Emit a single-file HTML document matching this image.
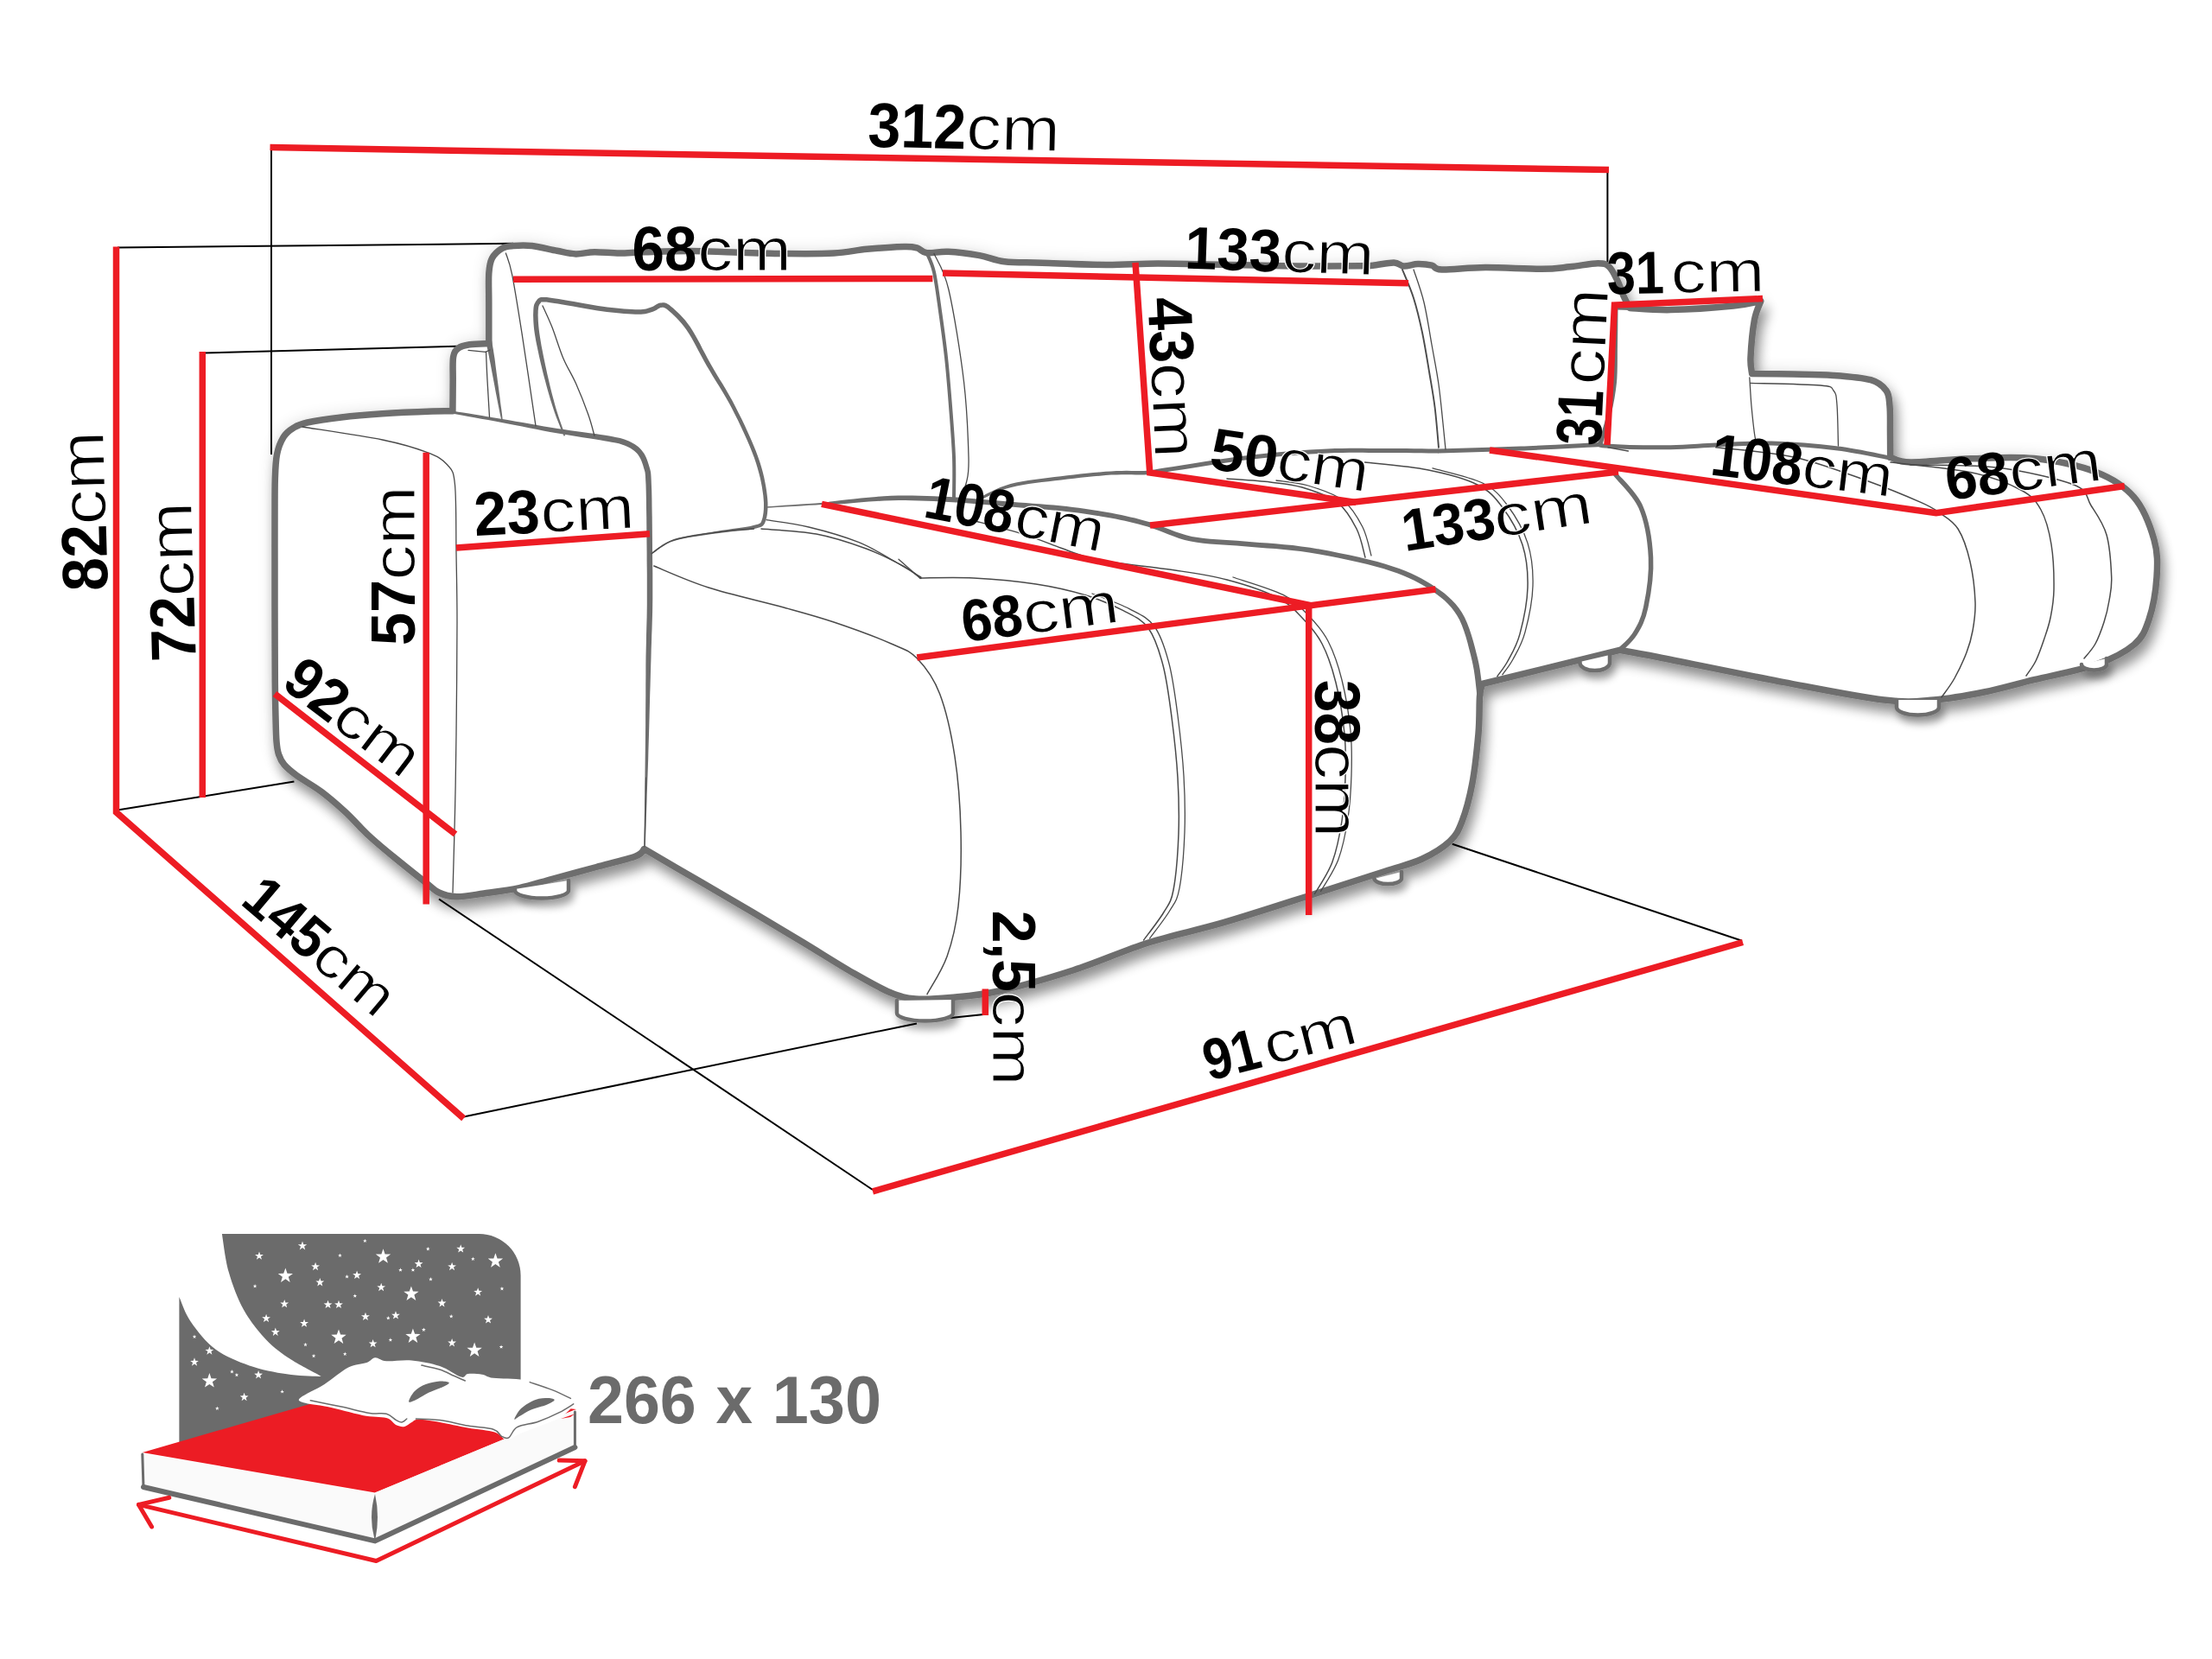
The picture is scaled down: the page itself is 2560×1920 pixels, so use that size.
<!DOCTYPE html><html><head><meta charset="utf-8"><title>Sofa dimensions</title>
<style>html,body{margin:0;padding:0;background:#fff}svg{display:block}text{font-family:"Liberation Sans",sans-serif}</style></head><body>
<svg width="2560" height="1920" viewBox="0 0 2560 1920">
<defs><filter id="sh" x="-5%" y="-5%" width="112%" height="115%"><feGaussianBlur in="SourceAlpha" stdDeviation="7"/><feOffset dx="5" dy="11"/><feComponentTransfer result="a"><feFuncA type="linear" slope="0.4"/></feComponentTransfer><feGaussianBlur in="SourceAlpha" stdDeviation="9"/><feComponentTransfer result="b"><feFuncA type="linear" slope="0.12"/></feComponentTransfer><feMerge><feMergeNode in="b"/><feMergeNode in="a"/><feMergeNode in="SourceGraphic"/></feMerge></filter><filter id="sh2" x="-30%" y="-30%" width="170%" height="220%"><feGaussianBlur in="SourceAlpha" stdDeviation="5"/><feOffset dx="4" dy="8"/><feComponentTransfer result="a"><feFuncA type="linear" slope="0.35"/></feComponentTransfer><feMerge><feMergeNode in="a"/><feMergeNode in="SourceGraphic"/></feMerge></filter></defs>
<rect width="2560" height="1920" fill="#fff"/>
<g stroke="#000" stroke-width="2" fill="none">
<line x1="314" y1="170" x2="314" y2="526"/>
<line x1="1860.4" y1="196" x2="1860.4" y2="306.5"/>
<line x1="136" y1="286.5" x2="594" y2="281.8"/>
<line x1="236" y1="408.5" x2="529" y2="400.7"/>
<line x1="136" y1="937.5" x2="340.4" y2="904.6"/>
<line x1="508" y1="1040.5" x2="1010" y2="1377"/>
<line x1="536.6" y1="1292.5" x2="1061" y2="1184.4"/>
<line x1="1090.5" y1="1179" x2="1141" y2="1173.8"/>
<line x1="1680.7" y1="976.7" x2="2016" y2="1088.8"/>
</g>
<path d="M318 700C318 691.7 318 666.7 318 650C318 633.3 317.9 615.8 318 600C318.1 584.2 317.9 567.3 318.3 555C318.7 542.7 318.9 534.2 320.5 526C322.1 517.8 324.8 511.2 328 506C331.2 500.8 335.4 497.8 340 495C344.6 492.2 346.5 491 355.7 489C364.9 487 380.5 484.7 395 483C409.5 481.3 425 480 442.5 478.8C460 477.6 486.4 476.5 500 476C513.6 475.5 519.9 475.8 523.9 475.8C524 469.8 524.1 450.4 524.2 440C524.3 429.6 523.6 419.4 524.6 413.2C525.6 407 527.3 405.4 530.4 403C533.5 400.6 537.5 399.7 543.4 398.8C549.3 397.9 562.1 397.7 565.8 397.5C565.8 389.6 565.8 363.5 565.8 350C565.8 336.5 565.2 324.8 565.8 316.3C566.4 307.8 566.9 303.8 569.4 299C571.9 294.2 576.9 289.8 581 287.4C585.1 285 588.2 285 594 284.5C599.8 284 607.2 283.5 615.7 284.5C624.2 285.5 636.2 288.7 644.7 290.3C653.2 291.9 659.2 293.7 666.4 293.9C673.6 294.1 679.6 291.8 688 291.7C696.4 291.6 707.3 293 717 293C726.7 293 732.2 292.1 746 291.7C759.8 291.3 782.8 290.4 800 290.5C817.2 290.6 830.7 291.5 849 292C867.3 292.5 890.7 293.3 910 293.5C929.3 293.7 949.4 293.9 965 293C980.6 292.1 989.8 289.6 1003.4 288.3C1017 287 1037.1 285.6 1046.8 285.4C1056.5 285.2 1057 285.7 1061.3 286.9C1065.6 288.1 1066.8 292 1072.8 292.7C1078.8 293.4 1087.3 290.7 1097.4 291.2C1107.5 291.7 1122.8 293.7 1133.6 295.6C1144.4 297.5 1150.4 301.4 1162.5 302.8C1174.6 304.2 1186.4 303.6 1206 304.2C1225.6 304.8 1257.7 306.3 1280 306.4C1302.3 306.5 1318 305 1340 305C1362 305 1387.8 305.8 1412 306.3C1436.2 306.8 1463.7 307.5 1485 307.8C1506.3 308.1 1525 308 1540 308C1555 308 1566.9 307.9 1575 307.8C1583.1 307.7 1582.4 307.8 1588.8 307.2C1595.2 306.6 1607.2 303.9 1613.2 304C1619.2 304.1 1620 307.7 1624.6 308C1629.2 308.3 1635.5 305.7 1640.9 305.6C1646.3 305.5 1652.6 306.1 1657.2 307.2C1661.8 308.3 1658.3 311.6 1668.6 312C1678.9 312.4 1699.8 309.7 1719 309.6C1738.2 309.5 1767.7 311.4 1784 311.3C1800.3 311.2 1805.8 309.9 1816.7 308.8C1827.6 307.7 1841.7 304.8 1849.3 304.8C1856.9 304.8 1858.5 305.4 1862.3 308.8C1866.1 312.2 1869.3 319.6 1872 325C1874.7 330.4 1876.2 336.1 1878.5 341.4C1880.8 346.6 1884.8 354 1886 356.5C1893.9 356.9 1913.6 359 1933.6 358.6C1953.6 358.2 1988.6 355.7 2006 354C2023.4 352.3 2032.5 349.4 2037.8 348.5C2036.6 352.1 2032.5 359.1 2030.5 370C2028.5 380.9 2026.5 403.2 2026 413.6C2025.5 424 2027.3 429.3 2027.6 432.4C2035.5 432.5 2059.3 432.7 2075 433C2090.7 433.3 2106.7 433.3 2121.7 434.4C2136.7 435.5 2154.8 436.8 2165 439.7C2175.2 442.6 2179.3 446.9 2183 452C2186.7 457.1 2186.2 462 2187 470C2187.8 478 2187.4 490.1 2187.5 500C2187.6 509.9 2187.7 524.5 2187.7 529.4C2191.6 530.3 2195.8 534.8 2211.4 535C2227 535.2 2257.2 531.5 2281 530.8C2304.8 530.1 2329.8 528 2354 530.6C2378.2 533.2 2406.7 539 2426 546.5C2445.3 554 2458.6 562.5 2469.8 575.5C2481 588.5 2488.6 609.3 2493 624.7C2497.4 640.1 2497 652.6 2496 668C2495 683.4 2491.4 704 2487 717C2482.6 730 2480 737.3 2469.8 746C2459.6 754.7 2445.3 762.2 2426 769C2406.7 775.8 2375.7 781.4 2354 786.7C2332.3 792 2315.3 797.1 2296 801C2276.7 804.9 2257.3 808.5 2238 810C2218.7 811.5 2209.3 813.4 2180.4 810C2151.5 806.6 2108.1 797.8 2064.7 789.6C2021.3 781.4 1951.7 766.9 1920 760.7C1888.3 754.5 1882.1 753.8 1874.5 752.4L1715.4 791.5C1714.9 793.9 1713.2 796.4 1712.5 806C1711.8 815.6 1712.5 832.2 1711 849C1709.5 865.8 1707 890.1 1703.8 907C1700.6 923.9 1696.3 939.5 1692 950.6C1687.7 961.7 1685.5 966.6 1677.8 973.8C1670.1 981 1658.5 988.2 1646 994C1633.5 999.8 1623.2 1001.8 1602.5 1008.5C1581.8 1015.2 1552.6 1024.6 1521.5 1034.5C1490.4 1044.4 1448.1 1058.3 1416 1067.7C1383.9 1077.1 1357.9 1081.8 1329 1091C1300.1 1100.2 1271.4 1113.4 1242.5 1122.7C1213.6 1132 1179.5 1141.7 1155.7 1147C1132 1152.3 1116 1153 1100 1154.5C1084 1156 1071.2 1157 1059.6 1156C1048 1155 1042.7 1153.8 1030.6 1148.8C1018.5 1143.8 1003.8 1135.3 987 1125.7C970.2 1116.1 949.2 1102.6 930 1091C910.8 1079.4 891.5 1067.8 871.5 1056C851.5 1044.2 831 1032.2 810 1020C789 1007.8 756.3 988.8 745.6 982.5C743.9 983.9 744.8 987.5 735.5 991C726.2 994.5 705.9 999.2 690 1003.5C674.1 1007.8 654.8 1013 640 1017C625.2 1021 614.3 1024.8 601 1027.6C587.7 1030.4 572.1 1032.3 560 1034C547.9 1035.7 537.2 1037.9 528.5 1037.7C519.8 1037.5 514.2 1036 508 1033C501.8 1030 499.7 1026.8 491 1020C482.3 1013.2 466.2 1000.3 456 992C445.8 983.7 436.7 976 430 970C423.3 964 420.7 961 415.7 956C410.7 951 407.2 946.6 400 940C392.8 933.4 381.7 923.6 372.3 916.5C362.9 909.4 350.6 902.8 343.4 897.5C336.2 892.2 332.5 889.1 329 885C325.5 880.9 324 877.5 322.5 873C321 868.5 320.6 865.2 320 858C319.4 850.8 319.3 841.3 319 830C318.7 818.7 318.5 811.7 318.3 790C318.1 768.3 318.1 715 318 700Z" fill="#fff" stroke="#6e6e6e" stroke-width="7.5" stroke-linejoin="round" filter="url(#sh)"/>
<g fill="#fff" stroke="#6e6e6e" stroke-width="4.5" stroke-linecap="round" filter="url(#sh2)">
<path d="M596 1029V1030.5A31 9 0 0 0 658 1030.5V1019"/>
<path d="M1038 1158V1172.5A32.5 9 0 0 0 1103 1172.5V1157"/>
<path d="M1590.5 1017V1017.1A15.8 6.4 0 0 0 1622 1017.1V1009"/>
<path d="M1828.5 766V767A17.2 9 0 0 0 1863 767V758"/>
<path d="M2195 810V818.5A24.5 9 0 0 0 2244 818.5V810"/>
<path d="M2409 769V769.1A14.5 6.4 0 0 0 2438 769.1V762"/>
</g>
<path d="M525.7 479L529.9 479.8L535.4 480.8L541.9 481.9L549.2 483.2L557 484.7L565 486.1L573 487.6L580.6 489L588.2 490.4L596.1 492L604.2 493.6L612.4 495.2L620.6 496.8L628.7 498.4L636.6 499.9L644.2 501.3L651.8 502.6L659.4 503.8L667 505L674.4 506.2L681.5 507.2L688.1 508.3L694.1 509.3L699.5 510.2L704 511L707.8 511.7L711 512.2L713.8 512.8L716.2 513.3L718.4 514L720.5 514.7L722.8 515.5L725.1 516.5L727.3 517.5L729.3 518.6L731.2 519.8L733 521L734.6 522.3L736.2 523.7L737.5 525.1L738.8 526.7L739.9 528.4L740.9 530.2L741.9 532.2L742.7 534.2L743.5 536.4L744.2 538.6L744.9 540.9L745.5 543L746 544.5L746.3 545.8L746.6 547.1L746.8 549L747 551.8L747.2 555.7L747.5 561.1L747.7 568.3L747.9 577.2L748 587.3L748.2 598.1L748.3 609.2L748.4 620.3L748.5 630.7L748.6 640L748.6 648.4L748.7 656.4L748.8 663.9L748.8 671.2L748.8 678.3L748.8 685.4L748.8 692.6L748.8 700L748.7 707.2L748.6 714.2L748.4 721.1L748.2 728L748 735.2L747.9 742.8L747.7 751L747.5 759.9L747.4 769.9L747.4 780.8L747.3 792.4L747.3 804.3L747.2 816.4L747.1 828.2L747.1 839.5L747 850L746.9 859.7L746.8 869.1L746.7 878.1L746.6 886.8L746.5 895.3L746.4 903.6L746.3 911.8L746.3 920L746.1 928.4L746 937.3L745.8 946.2L745.7 954.9L745.5 963L745.4 970.2L745.3 976.3L745.3 981L746.7 981L746.9 976.4L747.1 970.3L747.4 963L747.7 954.9L747.9 946.2L748.2 937.3L748.5 928.5L748.7 920L749 911.8L749.3 903.6L749.6 895.3L749.9 886.8L750.2 878.1L750.4 869.2L750.7 859.8L751 850L751.3 839.5L751.6 828.2L751.9 816.4L752.2 804.4L752.6 792.5L752.9 780.9L753.2 770L753.5 760.1L753.7 751.1L754 743L754.2 735.4L754.5 728.2L754.7 721.3L754.9 714.4L755.1 707.4L755.2 700L755.3 692.7L755.3 685.5L755.3 678.3L755.3 671.2L755.3 663.9L755.2 656.3L755.1 648.4L755 640L755 630.6L754.9 620.2L754.8 609.2L754.7 598L754.5 587.2L754.4 577.1L754.2 568.1L753.9 560.9L753.7 555.4L753.5 551.4L753.3 548.4L753 546.1L752.6 544.3L752.2 542.7L751.7 541.1L751.1 539.1L750.4 536.7L749.6 534.3L748.8 531.9L747.8 529.5L746.7 527.2L745.5 525L744 522.9L742.5 520.9L740.7 519L738.9 517.3L736.9 515.8L734.8 514.3L732.5 513L730.2 511.7L727.8 510.6L725.2 509.5L722.7 508.5L720.2 507.7L717.8 507L715.1 506.4L712.3 505.9L709 505.3L705.1 504.6L700.5 503.8L695.1 503L689 502.1L682.4 501.2L675.3 500.2L667.9 499.2L660.3 498.2L652.7 497L645.2 495.9L637.5 494.7L629.6 493.4L621.5 492L613.3 490.5L605 489.1L596.9 487.7L589 486.3L581.4 485L573.7 483.7L565.7 482.4L557.6 481.1L549.8 479.8L542.5 478.6L536 477.6L530.4 476.7L526.3 476Z" fill="#6e6e6e"/>
<path d="M562.4 395.6L562.7 397L563.1 398.8L563.5 400.8L564 403.2L564.6 405.8L565.2 408.7L565.8 411.8L566.4 415.2L567.2 418.9L568 423L568.8 427.5L569.7 432.2L570.6 437L571.5 441.8L572.4 446.6L573.2 451.1L574.1 455.8L575.1 460.8L576.1 465.9L577.1 470.9L578 475.6L578.9 479.9L579.7 483.4L580.3 486.1L581.7 485.9L581.4 483.1L581 479.5L580.5 475.2L579.8 470.4L579.1 465.4L578.5 460.2L577.8 455.2L577.2 450.5L576.6 445.9L575.9 441.1L575.3 436.2L574.6 431.4L574 426.7L573.4 422.2L572.9 418L572.4 414.2L571.8 410.8L571.3 407.6L570.9 404.7L570.4 402L570 399.6L569.7 397.5L569.4 395.8L569.2 394.4Z" fill="#6e6e6e"/>
<path d="M1072.8 293C1074.2 296.7 1078.5 303.8 1081 315C1083.5 326.2 1085.7 343.6 1088 360C1090.3 376.4 1093 395.3 1095 413.6C1097 431.9 1098.5 450.8 1100 470C1101.5 489.2 1103.3 511.2 1104 529C1104.7 546.8 1104 569 1104 577" fill="none" stroke="#6e6e6e" stroke-width="4" stroke-linecap="round" stroke-linejoin="round"/>
<path d="M654.1 504.1L653.3 501.7L652.2 498.6L650.9 494.9L649.4 490.8L647.8 486.3L646.2 481.6L644.7 476.8L643.2 472.1L641.9 467.2L640.5 462L639 456.6L637.6 451L636.2 445.3L634.9 439.6L633.6 434L632.4 428.5L631.2 422.9L630 417.2L628.8 411.5L627.7 405.8L626.6 400.2L625.7 394.8L624.9 389.8L624.2 385.3L623.7 381.2L623.3 377.3L623 373.8L622.8 370.5L622.7 367.5L622.6 364.7L622.7 362.1L622.7 359.8L622.9 357.9L623.1 356.3L623.3 355.1L623.6 354.1L623.9 353.3L624.2 352.6L624.6 352L625.2 351.2L625.8 350.4L626.2 349.9L626.3 349.7L626.3 349.6L626.5 349.6L627.1 349.5L628.3 349.4L630.1 349.4L632.4 349.6L635.2 349.9L638.4 350.4L641.9 350.9L645.7 351.6L649.8 352.3L654.1 353L658.6 353.7L663.3 354.5L668.5 355.4L674.1 356.4L679.8 357.4L685.6 358.4L691.4 359.4L696.9 360.2L702.2 360.9L707.2 361.5L712.3 362.1L717.3 362.6L722.1 363L726.8 363.3L731.1 363.5L735.1 363.7L738.7 363.7L741.8 363.7L744.5 363.5L746.8 363.2L748.9 362.8L750.7 362.3L752.3 361.8L753.9 361.3L755.5 360.8L757.3 360.1L758.9 359.3L760.3 358.4L761.5 357.6L762.6 356.9L763.5 356.4L764.2 356.1L765.1 355.9L766.1 355.8L767 355.8L767.7 355.8L768.4 355.9L769.1 356.2L770.1 356.7L771.4 357.6L773.2 358.9L775.2 360.7L777.6 362.8L780.2 365.2L783 367.9L785.8 370.9L788.7 374.2L791.5 377.7L794.3 381.6L797.1 385.7L799.9 390.3L802.7 395.3L805.5 400.6L808.4 406.1L811.5 411.7L814.6 417.5L817.8 423.2L821.3 429L824.8 434.9L828.5 440.9L832.3 447L836.1 453.2L839.8 459.5L843.5 466L847 472.5L850.5 479.4L854.1 486.6L857.6 494L861.1 501.5L864.5 509L867.6 516.3L870.4 523.2L872.9 529.8L875 535.9L876.8 541.9L878.4 547.7L879.8 553.3L880.9 558.6L881.9 563.8L882.6 568.6L883.3 573.3L883.7 577.7L884 581.9L884 585.9L883.9 589.6L883.6 593.1L883.1 596.2L882.6 598.9L881.9 601.3L881.2 603.2L880.6 604.4L880.2 605.2L879.7 605.6L878.8 606.1L877.2 606.7L875 607.3L872 608.1L868.4 609L864 609.8L858.9 610.6L853.5 611.3L847.7 612.1L841.7 612.9L835.7 613.8L829.8 614.8L823.8 615.7L817.3 616.7L810.6 617.7L803.8 618.8L797.1 619.9L790.8 621.2L784.9 622.5L779.7 624.1L775 625.9L770.8 628L766.9 630.3L763.4 632.7L760.3 635L757.6 637.1L755.4 638.8L753.6 640.1L754.4 641.3L756.3 640.1L758.6 638.4L761.3 636.3L764.4 634.1L767.8 631.9L771.6 629.6L775.8 627.6L780.3 625.9L785.4 624.5L791.2 623.2L797.5 622.1L804.1 621L810.9 620L817.6 619.1L824.1 618.1L830.2 617.2L836.1 616.5L842.1 615.8L848 615.1L853.8 614.6L859.4 614L864.5 613.4L869.1 612.7L873 611.9L876 611.2L878.4 610.6L880.3 610L882 609.2L883.4 608.1L884.5 606.6L885.3 604.9L886.1 602.7L886.9 600L887.6 597L888.1 593.6L888.4 589.9L888.5 585.9L888.5 581.7L888.2 577.3L887.7 572.7L887.1 568L886.3 563L885.3 557.8L884.2 552.3L882.8 546.6L881.2 540.7L879.3 534.6L877.1 528.2L874.6 521.6L871.7 514.5L868.6 507.2L865.2 499.7L861.7 492.1L858.1 484.6L854.5 477.4L851 470.5L847.5 463.8L843.8 457.2L840.1 450.8L836.4 444.5L832.6 438.4L829 432.4L825.5 426.5L822.2 420.8L819 415L816 409.3L813 403.7L810.2 398.1L807.3 392.8L804.5 387.7L801.7 382.9L798.9 378.4L795.9 374.4L792.9 370.6L789.9 367.2L786.9 364.1L784 361.3L781.3 358.7L778.9 356.6L776.6 354.7L774.7 353.1L773 352L771.3 351.1L769.8 350.6L768.3 350.3L766.9 350.3L765.7 350.4L764.3 350.5L762.7 350.8L761.1 351.4L759.7 352.2L758.5 353L757.3 353.8L756.2 354.5L755 355.1L753.7 355.6L752.2 356.1L750.7 356.6L749.2 357L747.7 357.4L746 357.7L744 358L741.6 358.2L738.7 358.3L735.3 358.2L731.4 358.1L727.1 357.8L722.5 357.5L717.7 357.1L712.8 356.6L707.8 356.1L702.8 355.5L697.7 354.8L692.2 353.9L686.5 353L680.8 352L675 351L669.5 350L664.2 349.1L659.4 348.3L655 347.6L650.7 346.8L646.6 346.1L642.8 345.5L639.2 344.9L635.9 344.5L632.9 344.1L630.3 344L628.2 343.9L626.5 344L625 344.3L623.6 344.9L622.5 345.7L621.8 346.5L621.3 347.2L620.8 348L620.1 348.8L619.5 349.9L618.9 351L618.3 352.3L617.9 353.8L617.6 355.5L617.4 357.4L617.3 359.6L617.2 362L617.1 364.7L617.2 367.6L617.3 370.8L617.5 374.2L617.8 377.9L618.2 381.8L618.8 386.1L619.6 390.7L620.5 395.8L621.6 401.1L622.8 406.8L624 412.5L625.3 418.3L626.7 424L628 429.5L629.4 435L630.9 440.6L632.4 446.3L634 451.9L635.6 457.5L637.2 462.9L638.8 468.1L640.4 472.9L642 477.7L643.7 482.5L645.5 487.1L647.3 491.6L648.9 495.7L650.4 499.3L651.7 502.3L652.7 504.7Z" fill="#6e6e6e"/>
<path d="M887 587.7L892.2 587.5L899.4 587L908.1 586.5L917.4 586L927 585.4L936 584.8L943.9 584.4L950.1 584L954.1 583.9L956.6 583.8L958.1 583.9L959 583.9L959.9 584L961.3 584L963.8 583.9L968 583.7L973.7 583.3L980.6 582.7L988.4 582L996.8 581.3L1005.6 580.6L1014.5 580L1023.2 579.5L1031.6 579.2L1039.7 579.1L1047.8 579.1L1055.9 579.2L1064.2 579.4L1072.4 579.7L1080.8 580L1089.3 580.4L1097.8 580.9L1106.6 581.4L1115.6 582L1124.7 582.7L1133.9 583.5L1143.1 584.3L1152.2 585.1L1161.1 585.9L1169.8 586.6L1178.2 587.3L1186.6 587.9L1194.9 588.5L1203 589.1L1211 589.7L1218.8 590.4L1226.3 591.1L1233.7 591.9L1240.8 592.7L1247.7 593.6L1254.4 594.5L1260.9 595.4L1267.2 596.4L1273.4 597.4L1279.5 598.5L1285.5 599.6L1291.2 600.6L1296.6 601.7L1301.9 602.8L1307 604L1312.1 605.2L1317.3 606.5L1322.6 608L1328.2 609.6L1333.9 611.4L1339.7 613.5L1345.6 615.8L1351.7 618.2L1357.9 620.6L1364.4 622.9L1371.1 624.9L1378.1 626.5L1385.3 627.8L1392.5 628.8L1400 629.5L1407.5 630L1415.3 630.5L1423.2 631L1431.3 631.6L1439.8 632.3L1448.5 633L1457.4 633.7L1466.6 634.4L1476 635.1L1485.6 635.9L1495.3 636.9L1505.2 638.1L1515.2 639.6L1525.8 641.3L1536.9 643.3L1548.4 645.6L1560 647.9L1571.4 650.5L1582.3 653L1592.5 655.7L1601.7 658.3L1609.9 660.9L1617.4 663.5L1624.3 666.2L1630.6 668.9L1636.6 671.8L1642.2 674.7L1647.6 677.8L1653 681.1L1658.2 684.5L1663 688L1667.6 691.5L1671.9 695.1L1675.9 698.9L1679.6 703L1683 707.4L1686.2 712.2L1689.2 717.6L1691.8 723.5L1694.2 730L1696.4 736.8L1698.4 743.7L1700.1 750.5L1701.8 757.1L1703.3 763.3L1704.6 769.3L1705.8 775.6L1706.7 781.8L1707.5 787.9L1708.1 793.6L1708.7 798.7L1709.1 803.1L1709.5 806.4L1716.5 805.6L1716.1 802.3L1715.6 798L1715.1 792.9L1714.4 787.1L1713.6 780.9L1712.7 774.4L1711.5 767.9L1710.1 761.7L1708.5 755.4L1706.8 748.8L1704.9 741.8L1702.8 734.8L1700.5 727.8L1697.9 721L1695 714.6L1691.8 708.8L1688.2 703.6L1684.4 698.8L1680.3 694.5L1676 690.4L1671.5 686.6L1666.6 683L1661.6 679.5L1656.2 676.1L1650.7 672.7L1645.1 669.5L1639.2 666.5L1633 663.5L1626.5 660.7L1619.4 658L1611.7 655.4L1603.3 652.7L1594 650.1L1583.7 647.4L1572.6 644.8L1561.2 642.3L1549.5 639.9L1538 637.6L1526.8 635.6L1516.2 633.8L1506 632.4L1496 631.1L1486.1 630.2L1476.5 629.3L1467.1 628.6L1457.9 628L1448.9 627.3L1440.2 626.5L1431.8 625.8L1423.6 625.2L1415.6 624.7L1407.9 624.3L1400.5 623.7L1393.2 623L1386.1 622.1L1379.3 620.9L1372.6 619.3L1366.2 617.3L1359.9 615.2L1353.8 612.8L1347.7 610.4L1341.7 608.1L1335.8 605.9L1329.8 604L1324.1 602.4L1318.7 600.9L1313.5 599.6L1308.3 598.4L1303.1 597.2L1297.8 596.1L1292.3 595L1286.5 593.8L1280.5 592.8L1274.4 591.7L1268.1 590.7L1261.7 589.7L1255.2 588.7L1248.4 587.8L1241.5 587L1234.3 586.1L1226.9 585.3L1219.3 584.6L1211.5 584L1203.5 583.3L1195.3 582.7L1187.1 582.1L1178.7 581.5L1170.2 580.8L1161.6 580.1L1152.7 579.3L1143.6 578.5L1134.4 577.7L1125.2 577L1116 576.2L1107 575.6L1098.2 575.1L1089.5 574.7L1081 574.3L1072.6 574L1064.3 573.7L1056 573.6L1047.8 573.5L1039.6 573.6L1031.4 573.8L1022.9 574.2L1014.1 574.9L1005.2 575.7L996.4 576.6L988 577.5L980.2 578.3L973.4 579.1L967.6 579.7L963.5 580.2L961 580.5L959.6 580.7L958.7 580.9L957.9 581.1L956.5 581.3L954 581.6L949.9 582L943.8 582.4L935.9 583L926.9 583.6L917.3 584.2L907.9 584.8L899.3 585.4L892.1 585.9L887 586.3Z" fill="#6e6e6e"/>
<path d="M1665 519.5L1660 519.5L1653.3 519.4L1645.4 519.3L1636.5 519.2L1627.2 519.1L1617.7 519.1L1608.5 519L1600 519L1592.1 519L1584.5 518.9L1577 518.8L1569.4 518.8L1561.6 518.8L1553.5 518.9L1545 519.1L1535.9 519.5L1526.2 520L1516 520.6L1505.5 521.3L1494.6 522.1L1483.4 523L1472 524L1460.4 525.2L1448.7 526.5L1436.2 528.1L1422.5 530L1408.2 532.1L1393.9 534.3L1380.2 536.4L1367.5 538.4L1356.5 540.2L1347.6 541.5L1341.4 542.5L1337.4 543.3L1335 543.8L1333.8 544.1L1333.1 544.3L1332.4 544.4L1330.9 544.5L1327.9 544.8L1323.9 544.9L1319.4 545L1314.6 544.9L1309.4 544.9L1303.9 544.8L1298.1 544.9L1292.1 545L1285.9 545.4L1279.4 545.8L1272.4 546.4L1265.2 547L1257.8 547.7L1250.2 548.5L1242.6 549.4L1235.1 550.3L1227.7 551.2L1220.4 552.1L1212.8 553L1205.1 554L1197.4 555L1189.9 556L1182.7 557.2L1175.8 558.6L1169.5 560.1L1163.5 561.9L1157.6 564.1L1152.1 566.5L1146.9 568.9L1142.2 571.3L1138.1 573.4L1134.7 575.2L1132 576.5L1133.2 579.3L1136 578L1139.6 576.3L1143.7 574.3L1148.4 572.1L1153.5 569.8L1159 567.6L1164.7 565.6L1170.5 563.9L1176.7 562.5L1183.4 561.3L1190.6 560.1L1198 559.1L1205.6 558.1L1213.3 557.2L1220.9 556.3L1228.3 555.4L1235.6 554.5L1243.1 553.7L1250.7 552.8L1258.2 552L1265.6 551.3L1272.8 550.7L1279.7 550.1L1286.1 549.6L1292.2 549.4L1298.2 549.2L1303.9 549.2L1309.4 549.3L1314.5 549.4L1319.4 549.4L1324 549.4L1328.1 549.2L1331.1 549.1L1332.9 549L1334 548.9L1334.9 548.7L1336 548.5L1338.3 548L1342.2 547.4L1348.4 546.5L1357.2 545.1L1368.3 543.4L1380.9 541.4L1394.7 539.2L1409 537L1423.2 534.9L1436.8 533.1L1449.3 531.5L1461 530.2L1472.5 529L1483.9 528L1495 527.1L1505.8 526.3L1516.4 525.6L1526.5 525L1536.1 524.5L1545.2 524.1L1553.6 523.9L1561.7 523.8L1569.4 523.8L1576.9 523.8L1584.4 523.9L1592.1 524L1600 524L1608.5 524L1617.7 524.1L1627.1 524.1L1636.5 524.2L1645.3 524.3L1653.3 524.4L1660 524.5L1665 524.5Z" fill="#6e6e6e"/>
<path d="M1665 522C1680.8 521.5 1728.8 520.2 1760 519C1791.2 517.8 1836.7 515.2 1852 514.5" fill="none" stroke="#6e6e6e" stroke-width="5" stroke-linecap="round" stroke-linejoin="round"/>
<path d="M1870 549.6C1874.8 555.8 1892.2 571.1 1899 587C1905.8 602.9 1909.5 625.7 1910.5 645C1911.5 664.3 1907.8 688.2 1904.7 703C1901.6 717.8 1897 725.4 1892 733.6C1887 741.8 1877.4 749.3 1874.5 752.4" fill="none" stroke="#6e6e6e" stroke-width="5.5" stroke-linecap="round" stroke-linejoin="round"/>
<path d="M1852.6 512C1853.5 512.7 1844.5 515 1858 516C1871.5 517 1912.3 518 1933.6 517.8C1954.9 517.6 1966.3 515.8 1985.7 515C2005.1 514.2 2026.5 512.3 2050 513C2073.6 513.7 2104.2 516.2 2127 519C2149.8 521.8 2177 528.2 2187 530" fill="none" stroke="#6e6e6e" stroke-width="5" stroke-linecap="round" stroke-linejoin="round"/>
<path d="M1886 356.5L1870 356" fill="none" stroke="#6e6e6e" stroke-width="5" stroke-linecap="round" stroke-linejoin="round"/>
<path d="M1870 356C1869.9 363.3 1869.8 385.6 1869.5 400C1869.2 414.4 1869.8 429.2 1868.5 442.5C1867.2 455.8 1864.7 468.4 1862 480C1859.3 491.6 1854.2 506.7 1852.6 512" fill="none" stroke="#6e6e6e" stroke-width="5" stroke-linecap="round" stroke-linejoin="round"/>
<path d="M585.4 293C586.6 297.1 589.5 302.2 592.6 317.7C595.7 333.1 599.4 356.5 604 385.7C608.6 414.9 617.3 474.9 620 492.8" fill="none" stroke="#4a4a4a" stroke-width="1.3" stroke-linecap="round"/>
<path d="M1081 293.5C1083.8 300.5 1092.2 310.7 1098 335.5C1103.8 360.3 1111.8 410.2 1115.6 442.5C1119.4 474.8 1120.5 509.8 1121 529C1121.5 548.2 1120.3 549.8 1118.5 558C1116.7 566.2 1111.4 575.1 1110 578.5" fill="none" stroke="#4a4a4a" stroke-width="1.3" stroke-linecap="round"/>
<path d="M1623 312C1625.2 317.5 1632.2 332.9 1636 345C1639.8 357.1 1643 370.5 1646 384.7C1649 398.9 1651.6 415.5 1654 430C1656.4 444.5 1658.8 456.9 1660.6 471.5C1662.4 486.1 1664.3 510.1 1665 517.8" fill="none" stroke="#4a4a4a" stroke-width="1.9" stroke-linecap="round"/>
<path d="M1636 312C1638 318.3 1644.5 335.3 1648 350C1651.5 364.7 1654.4 384.2 1657.2 400C1660 415.8 1662.9 430 1665 445C1667.1 460 1668.7 477.5 1670 490C1671.3 502.5 1672.5 515 1673 520" fill="none" stroke="#4a4a4a" stroke-width="1.3" stroke-linecap="round"/>
<path d="M542 405.3L562 407.4" fill="none" stroke="#4a4a4a" stroke-width="1.3" stroke-linecap="round"/>
<path d="M562.5 407.5C562.8 412.9 563.3 427.5 564 440C564.7 452.5 566.1 475.6 566.5 482.7" fill="none" stroke="#4a4a4a" stroke-width="1.3" stroke-linecap="round"/>
<path d="M562 407.4L567 405" fill="none" stroke="#4a4a4a" stroke-width="1.3" stroke-linecap="round"/>
<path d="M350 494C365.4 496.5 418.4 504.1 442.5 509C466.6 514 482.1 518.9 494.6 523.7C507.2 528.5 512.5 531.8 517.8 538C523.1 544.2 524.8 544 526.5 561C528.2 578 527.6 613.5 528 640C528.4 666.5 529 685 529 720C529 755 528.4 813.3 528 850C527.6 886.7 527.2 909.5 526.5 940C525.8 970.5 524.4 1017.5 524 1033" fill="none" stroke="#4a4a4a" stroke-width="1.3" stroke-linecap="round"/>
<path d="M628 353.9C629.8 358 634.9 368.4 638.9 378.5C642.9 388.6 647.3 403.8 651.9 414.7C656.5 425.6 661.6 432.8 666.4 443.6C671.2 454.5 677.2 469.7 680.8 479.8C684.4 489.9 686.8 500.3 688 504.4" fill="none" stroke="#4a4a4a" stroke-width="1.3" stroke-linecap="round"/>
<path d="M754 640.7C758.3 638.1 767.3 629.1 780 625C792.7 620.9 814.6 618.2 830 616C845.4 613.8 865.4 612.7 872.5 612" fill="none" stroke="#4a4a4a" stroke-width="1.3" stroke-linecap="round"/>
<path d="M756.8 655C767.3 659.2 795 672 820 680C845 688 882.8 696.3 907 703C931.2 709.7 944.2 713 965 720C985.8 727 1015.4 737.9 1031.5 745C1047.7 752.1 1052.6 752.8 1061.9 762.5C1071.2 772.2 1080.4 784.1 1087.6 803C1094.8 821.9 1100.9 849.1 1105 875.7C1109.1 902.3 1111.3 933.6 1112 962.5C1112.7 991.4 1111.7 1024.9 1109 1049C1106.3 1073.1 1102 1090.1 1096 1107C1090 1123.9 1076.8 1143.3 1073 1150.6" fill="none" stroke="#4a4a4a" stroke-width="1.5" stroke-linecap="round"/>
<path d="M881 612C891.6 613 924.5 614.2 944.7 618C965 621.8 985.6 628.8 1002.5 635C1019.4 641.2 1035.4 649.8 1046 655.5C1056.6 661.2 1062.7 667.1 1066 669.4" fill="none" stroke="#4a4a4a" stroke-width="1.5" stroke-linecap="round"/>
<path d="M887 601.7C895.2 603.1 918.2 605.7 936 610C953.8 614.3 977.1 620.9 994 627.7C1010.9 634.5 1025.5 644.3 1037.5 651C1049.5 657.7 1061.2 665.2 1066 668" fill="none" stroke="#4a4a4a" stroke-width="1.3" stroke-linecap="round"/>
<path d="M1064.6 669C1075 669 1104.4 667.8 1126.8 669C1149.2 670.2 1177.3 672.7 1199 676C1220.7 679.3 1240.2 683.9 1257 689C1273.8 694.1 1288 700.3 1300 706.6C1312 712.9 1321.3 716.4 1329 727C1336.7 737.6 1341.5 752.8 1346 770C1350.5 787.2 1353.2 808.3 1356 830C1358.8 851.7 1361.7 877.5 1363 900C1364.3 922.5 1364.8 943.3 1364 965C1363.2 986.7 1360.9 1014.8 1358 1030C1355.1 1045.2 1352.4 1046.3 1346.7 1056C1341 1065.7 1327.4 1082.7 1323.6 1088" fill="none" stroke="#4a4a4a" stroke-width="1.5" stroke-linecap="round"/>
<path d="M1264 687C1271.2 689.9 1295 698.3 1307 704.6C1319 710.9 1328.3 714.4 1336 725C1343.7 735.6 1348.5 750.8 1353 768C1357.5 785.2 1360.2 806.3 1363 828C1365.8 849.7 1368.7 875.5 1370 898C1371.3 920.5 1371.8 941.3 1371 963C1370.2 984.7 1367.9 1012.8 1365 1028C1362.1 1043.2 1359.4 1044.3 1353.7 1054C1348 1063.7 1334.4 1080.7 1330.6 1086" fill="none" stroke="#4a4a4a" stroke-width="1.3" stroke-linecap="round"/>
<path d="M1040 647.3L1064.6 669" fill="none" stroke="#4a4a4a" stroke-width="1.3" stroke-linecap="round"/>
<path d="M1126.8 602.5C1136.5 605.1 1167.8 613.1 1184.7 618.4C1201.6 623.7 1216 630 1228 634.3C1240 638.6 1246.7 641.6 1257 644.4C1267.3 647.2 1272.8 648.4 1290 651C1307.2 653.6 1338.3 656.7 1360 660C1381.7 663.3 1400.3 665.8 1420 671C1439.7 676.2 1463.5 684.1 1478 691.4C1492.5 698.7 1498.3 706.1 1507 715C1515.7 723.9 1523.5 732.5 1530 745C1536.5 757.5 1541.7 772.7 1546 790C1550.3 807.3 1554.2 830.7 1556 849C1557.8 867.3 1557.5 883.2 1557 900C1556.5 916.8 1555.5 933.7 1553 950C1550.5 966.3 1547 983.9 1541.8 998C1536.5 1012.1 1524.9 1028.4 1521.5 1034.5" fill="none" stroke="#4a4a4a" stroke-width="1.5" stroke-linecap="round"/>
<path d="M1427 668C1436.7 671.4 1470.5 681.1 1485 688.4C1499.5 695.7 1505.3 703.1 1514 712C1522.7 720.9 1530.5 729.5 1537 742C1543.5 754.5 1548.7 769.7 1553 787C1557.3 804.3 1561.2 827.7 1563 846C1564.8 864.3 1564.5 880.2 1564 897C1563.5 913.8 1562.5 930.7 1560 947C1557.5 963.3 1554 980.9 1548.8 995C1543.5 1009.1 1531.9 1025.4 1528.5 1031.5" fill="none" stroke="#4a4a4a" stroke-width="1.3" stroke-linecap="round"/>
<path d="M1420 554C1428.3 554.7 1455.5 556.3 1470 558C1484.5 559.7 1494 560.1 1507 564C1520 567.9 1537.2 573.4 1547.7 581.4C1558.2 589.4 1564.6 601.4 1570 612C1575.4 622.6 1578.3 639.5 1580 645" fill="none" stroke="#4a4a4a" stroke-width="1.5" stroke-linecap="round"/>
<path d="M1477 556C1483.2 557 1501 558.1 1514 562C1527 565.9 1544.2 571.4 1554.7 579.4C1565.2 587.4 1571.6 599.4 1577 610C1582.4 620.6 1585.3 637.5 1587 643" fill="none" stroke="#4a4a4a" stroke-width="1.3" stroke-linecap="round"/>
<path d="M1579.6 535C1591.7 536.5 1630.3 539.5 1652 543.8C1673.7 548.1 1695.3 553.8 1709.8 561C1724.2 568.2 1730 575.4 1738.7 587C1747.4 598.6 1757.1 615.1 1762 630.6C1766.9 646.1 1768.5 662.8 1768 680C1767.5 697.2 1762.8 719.4 1759 733.6C1755.2 747.8 1749.4 756.8 1745 765C1740.6 773.2 1734.8 779.8 1732.8 782.8" fill="none" stroke="#4a4a4a" stroke-width="1.5" stroke-linecap="round"/>
<path d="M1658 541.8C1667.6 544.7 1701.3 551.8 1715.8 559C1730.2 566.2 1736 573.4 1744.7 585C1753.4 596.6 1763.1 613.1 1768 628.6C1772.9 644.1 1774.5 660.8 1774 678C1773.5 695.2 1768.8 717.4 1765 731.6C1761.2 745.8 1755.4 754.8 1751 763C1746.6 771.2 1740.8 777.8 1738.8 780.8" fill="none" stroke="#4a4a4a" stroke-width="1.3" stroke-linecap="round"/>
<path d="M2025.6 443.4C2039.2 443.8 2090.9 444.6 2107 446C2123.1 447.4 2118.8 448.2 2122 452C2125.2 455.8 2125.1 457.9 2126 468.6C2126.9 479.3 2127.2 508.1 2127.5 516" fill="none" stroke="#4a4a4a" stroke-width="1.3" stroke-linecap="round"/>
<path d="M2024.8 436.8C2025.2 442.3 2026 459.1 2027 470C2028 480.9 2029.5 494.7 2030.5 502C2031.5 509.3 2032.6 512 2033 514" fill="none" stroke="#4a4a4a" stroke-width="1.3" stroke-linecap="round"/>
<path d="M1861 517.8L1884.4 522" fill="none" stroke="#4a4a4a" stroke-width="1.3" stroke-linecap="round"/>
<path d="M1985.7 517.8C2001.1 519.7 2048.1 522.7 2078 529.4C2107.9 536.1 2140.8 549.3 2165 558C2189.2 566.7 2209.8 575.6 2223 581.4C2236.2 587.2 2236.8 587.9 2244 593C2251.2 598.1 2260 602.5 2266 612C2272 621.5 2276.7 635.8 2280 650C2283.3 664.2 2285.5 683.7 2286 697C2286.5 710.3 2284.7 720.3 2283 730C2281.3 739.7 2279.5 745.8 2276 755C2272.5 764.2 2266.8 776.3 2262 785C2257.2 793.7 2249.5 803.3 2247 807" fill="none" stroke="#4a4a4a" stroke-width="1.5" stroke-linecap="round"/>
<path d="M2188 535C2203.5 537 2255.9 541.4 2281 546.7C2306.1 552 2325.2 559.8 2338.7 567C2352.2 574.2 2356.1 579.5 2362 590C2367.9 600.5 2371.5 614.6 2374 630C2376.5 645.4 2377.2 668.3 2377 682.5C2376.8 696.7 2374.9 705.4 2373 715C2371.1 724.6 2368.4 731.7 2365.6 740C2362.8 748.3 2359.4 758 2356 765C2352.6 772 2346.8 779.2 2345 782" fill="none" stroke="#4a4a4a" stroke-width="1.5" stroke-linecap="round"/>
<path d="M2211 538C2227.5 538.5 2278.3 537.2 2309.8 541C2341.3 544.8 2381.6 553.7 2400 561C2418.4 568.3 2413.7 575.3 2420 585C2426.3 594.7 2434.1 605.2 2438 619C2441.9 632.8 2443.2 655.3 2443.7 668C2444.2 680.7 2442.4 686.3 2441 695C2439.6 703.7 2437.7 711.7 2435 720C2432.3 728.3 2428.8 738 2425 745C2421.2 752 2414.2 759.2 2412 762" fill="none" stroke="#4a4a4a" stroke-width="1.5" stroke-linecap="round"/>
<path d="M747.5 900L746 980" fill="none" stroke="#4a4a4a" stroke-width="1" stroke-linecap="round"/>
<g stroke="#ed1c24" stroke-width="7.5" fill="none" stroke-linejoin="miter">
<polyline points="312.5,170.6 1862,196.6"/>
<polyline points="134.5,285.5 134.5,940 536.6,1294.4"/>
<polyline points="234.3,407 234.3,923"/>
<polyline points="594,323.3 1079.4,322.5"/>
<polyline points="1091,316 1630,327.7"/>
<polyline points="1314,304 1330.7,547 1569.4,581.4"/>
<polyline points="1331,608 1873,546"/>
<polyline points="951,583.3 1517,700.6 1661.5,682"/>
<polyline points="1061.3,761 1517,700.6"/>
<polyline points="1514.7,700.6 1514.7,1059"/>
<polyline points="1724,521 2240.7,593.6 2458.8,562.5"/>
<polyline points="2040,345.6 1868.5,353 1860,515"/>
<polyline points="528,634 752,617.7"/>
<polyline points="493.2,523.7 493.2,1046.4"/>
<polyline points="318,803 527,965.4"/>
<polyline points="1140.3,1144.5 1140.3,1175"/>
<polyline points="1010,1378.9 2017,1090.5"/>
</g>
<g transform="translate(1005.6 169.7) rotate(1.36)">
<text font-size="100" font-weight="700" transform="scale(0.6808 0.7307)" x="-2.3" y="0">312</text>
<text font-size="100" stroke="#fff" stroke-width="1.6" paint-order="fill" transform="translate(115.7 0) scale(0.8145 0.7196)" x="-4.2" y="0">cm</text>
</g>
<g transform="translate(734 312.8) rotate(0.00)">
<text font-size="100" font-weight="700" transform="scale(0.6731 0.7163)" x="-3.7" y="0">68</text>
<text font-size="100" stroke="#fff" stroke-width="1.6" paint-order="fill" transform="translate(76.7 0) scale(0.8154 0.7055)" x="-4.2" y="0">cm</text>
</g>
<g transform="translate(1374.7 310.7) rotate(2.00)">
<text font-size="100" font-weight="700" transform="scale(0.6696 0.6948)" x="-6.3" y="0">133</text>
<text font-size="100" stroke="#fff" stroke-width="1.6" paint-order="fill" transform="translate(111.4 0) scale(0.8047 0.6843)" x="-4.2" y="0">cm</text>
</g>
<g transform="translate(1328.5 346) rotate(87.45)">
<text font-size="100" font-weight="700" transform="scale(0.6830 0.7249)" x="-1.5" y="0">43</text>
<text font-size="100" stroke="#fff" stroke-width="1.6" paint-order="fill" transform="translate(78 0) scale(0.8284 0.7140)" x="-4.2" y="0">cm</text>
</g>
<g transform="translate(1400.5 542.5) rotate(8.50)">
<text font-size="100" font-weight="700" transform="scale(0.7026 0.6877)" x="-3.1" y="0">50</text>
<text font-size="100" stroke="#fff" stroke-width="1.6" paint-order="fill" transform="translate(79 0) scale(0.8007 0.6773)" x="-4.2" y="0">cm</text>
</g>
<g transform="translate(1630 637.4) rotate(-8.60)">
<text font-size="100" font-weight="700" transform="scale(0.6505 0.6834)" x="-6.3" y="0">133</text>
<text font-size="100" stroke="#fff" stroke-width="1.6" paint-order="fill" transform="translate(107 0) scale(0.8578 0.6730)" x="-4.2" y="0">cm</text>
</g>
<g transform="translate(1861.5 340.3) rotate(-1.00)">
<text font-size="100" font-weight="700" transform="scale(0.5943 0.6948)" x="-2.3" y="0">31</text>
<text font-size="100" stroke="#fff" stroke-width="1.6" paint-order="fill" transform="translate(76 0) scale(0.8154 0.6843)" x="-4.2" y="0">cm</text>
</g>
<g transform="translate(1852.6 515) rotate(-87.20)">
<text font-size="100" font-weight="700" transform="scale(0.5755 0.7450)" x="-2.3" y="0">31</text>
<text font-size="100" stroke="#fff" stroke-width="1.6" paint-order="fill" transform="translate(72 0) scale(0.8391 0.7337)" x="-4.2" y="0">cm</text>
</g>
<g transform="translate(1982 549.8) rotate(7.00)">
<text font-size="100" font-weight="700" transform="scale(0.6357 0.6948)" x="-6.3" y="0">108</text>
<text font-size="100" stroke="#fff" stroke-width="1.6" paint-order="fill" transform="translate(105.5 0) scale(0.7925 0.6843)" x="-4.2" y="0">cm</text>
</g>
<g transform="translate(2257 578.8) rotate(-7.50)">
<text font-size="100" font-weight="700" transform="scale(0.6616 0.6948)" x="-3.7" y="0">68</text>
<text font-size="100" stroke="#fff" stroke-width="1.6" paint-order="fill" transform="translate(75 0) scale(0.8047 0.6843)" x="-4.2" y="0">cm</text>
</g>
<g transform="translate(1071 598.8) rotate(11.20)">
<text font-size="100" font-weight="700" transform="scale(0.6217 0.7020)" x="-6.3" y="0">108</text>
<text font-size="100" stroke="#fff" stroke-width="1.6" paint-order="fill" transform="translate(105.6 0) scale(0.7827 0.6914)" x="-4.2" y="0">cm</text>
</g>
<g transform="translate(1118 742.8) rotate(-7.35)">
<text font-size="100" font-weight="700" transform="scale(0.6376 0.6834)" x="-3.7" y="0">68</text>
<text font-size="100" stroke="#fff" stroke-width="1.6" paint-order="fill" transform="translate(72.5 0) scale(0.8374 0.6730)" x="-4.2" y="0">cm</text>
</g>
<g transform="translate(552.1 620) rotate(-2.90)">
<text font-size="100" font-weight="700" transform="scale(0.6827 0.7163)" x="-3.5" y="0">23</text>
<text font-size="100" stroke="#fff" stroke-width="1.6" paint-order="fill" transform="translate(78 0) scale(0.8170 0.7055)" x="-4.2" y="0">cm</text>
</g>
<g transform="translate(480 745) rotate(-90.00)">
<text font-size="100" font-weight="700" transform="scale(0.6853 0.7235)" x="-3.1" y="0">57</text>
<text font-size="100" stroke="#fff" stroke-width="1.6" paint-order="fill" transform="translate(77 0) scale(0.8170 0.7125)" x="-4.2" y="0">cm</text>
</g>
<g transform="translate(325.7 795.5) rotate(37.30)">
<text font-size="100" font-weight="700" transform="scale(0.6564 0.6805)" x="-3.5" y="0">92</text>
<text font-size="100" stroke="#fff" stroke-width="1.6" paint-order="fill" transform="translate(73 0) scale(0.8007 0.6702)" x="-4.2" y="0">cm</text>
</g>
<g transform="translate(124.8 681) rotate(-91.60)">
<text font-size="100" font-weight="700" transform="scale(0.6930 0.7450)" x="-3.2" y="0">82</text>
<text font-size="100" stroke="#fff" stroke-width="1.6" paint-order="fill" transform="translate(77.6 0) scale(0.8145 0.7337)" x="-4.2" y="0">cm</text>
</g>
<g transform="translate(226.6 762) rotate(-91.60)">
<text font-size="100" font-weight="700" transform="scale(0.6809 0.7364)" x="-4.3" y="0">72</text>
<text font-size="100" stroke="#fff" stroke-width="1.6" paint-order="fill" transform="translate(75.7 0) scale(0.8219 0.7252)" x="-4.2" y="0">cm</text>
</g>
<g transform="translate(279.7 1047.8) rotate(40.30)">
<text font-size="100" font-weight="700" transform="scale(0.6345 0.6734)" x="-6.3" y="0">145</text>
<text font-size="100" stroke="#fff" stroke-width="1.6" paint-order="fill" transform="translate(105 0) scale(0.7680 0.6632)" x="-4.2" y="0">cm</text>
</g>
<g transform="translate(1521.5 788.6) rotate(90.00)">
<text font-size="100" font-weight="700" transform="scale(0.6717 0.7450)" x="-2.3" y="0">38</text>
<text font-size="100" stroke="#fff" stroke-width="1.6" paint-order="fill" transform="translate(76 0) scale(0.8088 0.7337)" x="-4.2" y="0">cm</text>
</g>
<g transform="translate(1149 1056) rotate(90.00)">
<text font-size="100" font-weight="700" transform="scale(0.6787 0.7020)" x="-3.5" y="0">2,5</text>
<text font-size="100" stroke="#fff" stroke-width="1.6" paint-order="fill" transform="translate(95 0) scale(0.8170 0.6914)" x="-4.2" y="0">cm</text>
</g>
<g transform="translate(1401.2 1250.5) rotate(-14.50)">
<text font-size="100" font-weight="700" transform="scale(0.5916 0.6734)" x="-3.5" y="0">91</text>
<text font-size="100" stroke="#fff" stroke-width="1.6" paint-order="fill" transform="translate(73 0) scale(0.8121 0.6632)" x="-4.2" y="0">cm</text>
</g>
<path d="M256.9 1428H554.6A48 48 0 0 1 602.6 1476V1640L207.4 1672V1501C209.7 1505.8 213.9 1519.8 221 1530C228.1 1540.2 237.9 1553.3 250 1562C262.1 1570.7 279.1 1577.2 293.6 1582C308.1 1586.8 324 1589.2 337 1591C350 1592.8 365.9 1592.7 371.7 1593C365.9 1589.3 347.6 1580.6 337 1573.6C326.4 1566.6 317.2 1560.2 308 1550.5C298.8 1540.8 289.2 1528.8 282 1515.7C274.8 1502.6 268.9 1486.6 264.7 1472C260.5 1457.4 258.2 1435.3 256.9 1428Z" fill="#6b6b6b"/>
<path d="M350 1436.5L351.3 1440.2L355.2 1440.3L352.1 1442.6L353.2 1446.4L350 1444.1L346.8 1446.4L348 1442.6L344.8 1440.3L348.7 1440.2ZM422.4 1433.7L422.9 1435.4L424.7 1435.4L423.3 1436.5L423.8 1438.1L422.4 1437.1L420.9 1438.1L421.4 1436.5L420.1 1435.4L421.8 1435.4ZM300 1448.4L301.2 1451.9L304.9 1451.9L301.9 1454.2L303 1457.7L300 1455.6L296.9 1457.7L298 1454.2L295.1 1451.9L298.8 1451.9ZM393.4 1450.5L394 1452.2L395.7 1452.2L394.4 1453.3L394.9 1454.9L393.4 1453.9L392 1454.9L392.5 1453.3L391.1 1452.2L392.9 1452.2ZM443.5 1445.3L445.6 1451.4L452.2 1451.6L447 1455.5L448.9 1461.8L443.5 1458L438.1 1461.8L440 1455.5L434.8 1451.6L441.4 1451.4ZM495.3 1443L495.9 1444.6L497.6 1444.7L496.2 1445.7L496.7 1447.4L495.3 1446.4L493.9 1447.4L494.4 1445.7L493 1444.7L494.7 1444.6ZM533.2 1440.3L534.4 1443.8L538.1 1443.8L535.2 1446.1L536.2 1449.6L533.2 1447.5L530.2 1449.6L531.2 1446.1L528.3 1443.8L532 1443.8ZM547.4 1454.6L547.9 1456.2L549.7 1456.3L548.3 1457.3L548.8 1459L547.4 1458L545.9 1459L546.4 1457.3L545.1 1456.3L546.8 1456.2ZM573.4 1450.2L575.6 1456.4L582.1 1456.5L576.9 1460.4L578.8 1466.7L573.4 1463L568.1 1466.7L569.9 1460.4L564.7 1456.5L571.3 1456.4ZM365.1 1460.8L366.3 1464.3L370 1464.4L367 1466.6L368.1 1470.2L365.1 1468L362 1470.2L363.1 1466.6L360.2 1464.4L363.9 1464.3ZM484.6 1457.6L485.8 1461.1L489.5 1461.2L486.5 1463.4L487.6 1467L484.6 1464.9L481.5 1467L482.6 1463.4L479.7 1461.2L483.4 1461.1ZM463.5 1467.3L464 1468.9L465.8 1469L464.4 1470L464.9 1471.7L463.5 1470.7L462 1471.7L462.5 1470L461.1 1469L462.9 1468.9ZM477.9 1467.3L478.5 1468.9L480.2 1469L478.9 1470L479.4 1471.7L477.9 1470.7L476.5 1471.7L477 1470L475.6 1469L477.4 1468.9ZM523.1 1460.8L524.3 1464.3L528 1464.4L525 1466.6L526.1 1470.2L523.1 1468L520 1470.2L521.1 1466.6L518.2 1464.4L521.9 1464.3ZM330.4 1467.6L332.5 1473.7L339 1473.9L333.8 1477.8L335.7 1484.1L330.4 1480.3L325 1484.1L326.9 1477.8L321.7 1473.9L328.2 1473.7ZM413.1 1470.6L414.3 1474.1L418 1474.2L415.1 1476.4L416.1 1480L413.1 1477.9L410.1 1480L411.1 1476.4L408.2 1474.2L411.9 1474.1ZM401.5 1475.1L402.1 1476.8L403.9 1476.8L402.5 1477.8L403 1479.5L401.5 1478.5L400.1 1479.5L400.6 1477.8L399.2 1476.8L401 1476.8ZM370.3 1479L371.5 1482.5L375.2 1482.6L372.3 1484.8L373.3 1488.4L370.3 1486.3L367.3 1488.4L368.3 1484.8L365.4 1482.6L369.1 1482.5ZM498.5 1478L499 1479.7L500.8 1479.7L499.4 1480.7L499.9 1482.4L498.5 1481.4L497 1482.4L497.5 1480.7L496.2 1479.7L497.9 1479.7ZM295.1 1486.1L295.6 1487.8L297.4 1487.8L296 1488.8L296.5 1490.5L295.1 1489.5L293.6 1490.5L294.1 1488.8L292.7 1487.8L294.5 1487.8ZM441.2 1484.8L442.4 1488.3L446.1 1488.4L443.1 1490.6L444.2 1494.2L441.2 1492.1L438.1 1494.2L439.2 1490.6L436.3 1488.4L440 1488.3ZM475.9 1488.4L478 1494.6L484.6 1494.7L479.4 1498.6L481.3 1504.9L475.9 1501.2L470.5 1504.9L472.4 1498.6L467.2 1494.7L473.8 1494.6ZM553.2 1490.3L554.4 1493.8L558.1 1493.9L555.1 1496.1L556.2 1499.7L553.2 1497.6L550.1 1499.7L551.2 1496.1L548.2 1493.9L551.9 1493.8ZM580.9 1489L581.5 1490.6L583.2 1490.7L581.9 1491.7L582.4 1493.4L580.9 1492.4L579.5 1493.4L580 1491.7L578.6 1490.7L580.4 1490.6ZM410.8 1497.4L411.4 1499L413.1 1499.1L411.7 1500.1L412.2 1501.8L410.8 1500.8L409.4 1501.8L409.9 1500.1L408.5 1499.1L410.2 1499ZM329.2 1503.9L330.4 1507.4L334.1 1507.5L331.2 1509.7L332.2 1513.3L329.2 1511.2L326.2 1513.3L327.2 1509.7L324.3 1507.5L328 1507.4ZM379.5 1504.8L380.8 1508.3L384.5 1508.4L381.5 1510.6L382.6 1514.1L379.5 1512L376.5 1514.1L377.6 1510.6L374.6 1508.4L378.3 1508.3ZM392 1504.8L393.2 1508.3L396.9 1508.4L394 1510.6L395 1514.1L392 1512L389 1514.1L390 1510.6L387.1 1508.4L390.8 1508.3ZM511.5 1503.1L512.7 1506.5L516.4 1506.6L513.5 1508.9L514.5 1512.4L511.5 1510.3L508.5 1512.4L509.5 1508.9L506.6 1506.6L510.3 1506.5ZM308.1 1520.7L309.3 1524.2L313 1524.3L310 1526.5L311.1 1530L308.1 1527.9L305 1530L306.1 1526.5L303.2 1524.3L306.9 1524.2ZM423 1518.7L424.2 1522.2L427.9 1522.2L424.9 1524.5L426 1528L423 1525.9L419.9 1528L421 1524.5L418 1522.2L421.7 1522.2ZM458 1517.2L459.2 1520.7L462.9 1520.8L459.9 1523L461 1526.6L458 1524.5L454.9 1526.6L456 1523L453.1 1520.8L456.7 1520.7ZM449.3 1523.1L449.9 1524.8L451.6 1524.8L450.2 1525.9L450.7 1527.5L449.3 1526.6L447.9 1527.5L448.4 1525.9L447 1524.8L448.7 1524.8ZM522.2 1521.1L522.8 1522.8L524.5 1522.8L523.1 1523.9L523.6 1525.5L522.2 1524.5L520.8 1525.5L521.3 1523.9L519.9 1522.8L521.6 1522.8ZM565 1522.1L566.2 1525.6L569.9 1525.7L567 1528L568.1 1531.5L565 1529.4L562 1531.5L563.1 1528L560.1 1525.7L563.8 1525.6ZM352.1 1526.5L353.3 1530L357 1530.1L354 1532.3L355.1 1535.8L352.1 1533.7L349 1535.8L350.1 1532.3L347.1 1530.1L350.8 1530ZM318.8 1536.6L320 1540.1L323.7 1540.2L320.7 1542.4L321.8 1546L318.8 1543.8L315.7 1546L316.8 1542.4L313.9 1540.2L317.6 1540.1ZM490.4 1536.5L490.9 1538.1L492.7 1538.1L491.3 1539.2L491.8 1540.9L490.4 1539.9L488.9 1540.9L489.4 1539.2L488.1 1538.1L489.8 1538.1ZM392 1538.5L394.1 1544.6L400.7 1544.8L395.5 1548.7L397.3 1554.9L392 1551.2L386.6 1554.9L388.5 1548.7L383.3 1544.8L389.8 1544.6ZM477.9 1537.6L480.1 1543.8L486.6 1543.9L481.4 1547.8L483.3 1554.1L477.9 1550.3L472.6 1554.1L474.5 1547.8L469.3 1543.9L475.8 1543.8ZM431.6 1549.9L432.8 1553.4L436.5 1553.5L433.6 1555.7L434.7 1559.3L431.6 1557.2L428.6 1559.3L429.7 1555.7L426.7 1553.5L430.4 1553.4ZM451.9 1548.3L452.5 1550L454.2 1550L452.8 1551.1L453.3 1552.7L451.9 1551.7L450.5 1552.7L451 1551.1L449.6 1550L451.3 1550ZM523.1 1549.1L524.3 1552.6L528 1552.6L525 1554.9L526.1 1558.4L523.1 1556.3L520 1558.4L521.1 1554.9L518.2 1552.6L521.9 1552.6ZM549.1 1553.5L551.3 1559.7L557.8 1559.8L552.6 1563.7L554.5 1570L549.1 1566.3L543.8 1570L545.6 1563.7L540.4 1559.8L547 1559.7ZM580.1 1556.4L580.6 1558.1L582.4 1558.1L581 1559.2L581.5 1560.8L580.1 1559.8L578.6 1560.8L579.1 1559.2L577.8 1558.1L579.5 1558.1ZM353.5 1553.8L354.1 1555.5L355.8 1555.5L354.4 1556.6L354.9 1558.2L353.5 1557.2L352.1 1558.2L352.6 1556.6L351.2 1555.5L352.9 1555.5ZM363.1 1566.8L363.6 1568.5L365.4 1568.5L364 1569.6L364.5 1571.2L363.1 1570.2L361.6 1571.2L362.1 1569.6L360.7 1568.5L362.5 1568.5ZM399.2 1564.5L399.8 1566.2L401.5 1566.2L400.1 1567.3L400.7 1568.9L399.2 1567.9L397.8 1568.9L398.3 1567.3L396.9 1566.2L398.7 1566.2ZM225 1544.6L225.6 1546.2L227.3 1546.2L226 1547.3L226.5 1549L225 1548L223.6 1549L224.1 1547.3L222.7 1546.2L224.5 1546.2ZM242.4 1558.3L243.6 1561.8L247.3 1561.9L244.4 1564.1L245.4 1567.7L242.4 1565.5L239.4 1567.7L240.4 1564.1L237.5 1561.9L241.2 1561.8ZM225 1571.3L226.2 1574.8L229.9 1574.9L227 1577.1L228.1 1580.7L225 1578.6L222 1580.7L223.1 1577.1L220.1 1574.9L223.8 1574.8ZM242.4 1589.1L244.5 1595.3L251.1 1595.4L245.9 1599.3L247.8 1605.6L242.4 1601.9L237 1605.6L238.9 1599.3L233.7 1595.4L240.3 1595.3ZM268.4 1585.1L269 1586.7L270.7 1586.7L269.4 1587.8L269.9 1589.5L268.4 1588.5L267 1589.5L267.5 1587.8L266.1 1586.7L267.9 1586.7ZM273.9 1588.8L274.5 1590.5L276.2 1590.5L274.9 1591.6L275.4 1593.2L273.9 1592.2L272.5 1593.2L273 1591.6L271.6 1590.5L273.4 1590.5ZM299.1 1586.1L300.3 1589.6L304 1589.7L301.1 1591.9L302.1 1595.4L299.1 1593.3L296.1 1595.4L297.1 1591.9L294.2 1589.7L297.9 1589.6ZM282.6 1611.8L283.8 1615.3L287.5 1615.4L284.6 1617.7L285.7 1621.2L282.6 1619.1L279.6 1621.2L280.7 1617.7L277.7 1615.4L281.4 1615.3ZM326.6 1608.2L327.2 1609.9L328.9 1609.9L327.5 1610.9L328 1612.6L326.6 1611.6L325.2 1612.6L325.7 1610.9L324.3 1609.9L326 1609.9ZM251.4 1627.6L251.9 1629.2L253.7 1629.3L252.3 1630.3L252.8 1632L251.4 1631L249.9 1632L250.4 1630.3L249.1 1629.3L250.8 1629.2Z" fill="#fff"/>
<path d="M164.8 1681L351.5 1627L430 1605L667 1631L434 1727.5Z" fill="#ec1c24"/>
<path d="M164.8 1682L434 1728.4V1783.4L166 1721Z" fill="#fafafa"/>
<path d="M434 1727.5L665.4 1631.5V1675L434 1783.4Z" fill="#fafafa"/>
<g stroke="#6b6b6b" fill="none" stroke-linecap="round"><path d="M166 1721L434 1783.4L665.4 1675" stroke-width="6" stroke-linejoin="miter"/><path d="M164.8 1683L166 1721M665.4 1634V1675" stroke-width="3"/></g>
<path d="M434 1729Q426 1756 434 1783Q440 1756 434 1729Z" fill="#6b6b6b"/>
<g stroke="#ed1c24" stroke-width="5" fill="none" stroke-linecap="round" stroke-linejoin="round"><polyline points="160.5,1741.4 435.4,1806.5 677,1690.8"/><polyline points="195.8,1733.3 160.5,1741.4 175.6,1767"/><polyline points="647.2,1690 677,1690.8 665.4,1720.6"/></g>
<path d="M347.9 1617.5C352 1614 366.4 1607.8 375.6 1602C384.8 1596.2 395.1 1586.8 403.2 1582.6C411.3 1578.4 419.2 1578.8 424.4 1576.9C429.6 1575 430.4 1571.5 434.2 1571.2C438 1570.9 440.1 1574.7 447.2 1575.2C454.2 1575.7 466.2 1573.4 476.5 1574.4C486.8 1575.4 499.5 1577.8 509 1581C518.5 1584.2 528.1 1592.1 533.5 1593.6C538.9 1595.1 537.5 1590.4 541.6 1589.9C545.7 1589.4 553 1589.9 557.9 1590.7C562.8 1591.5 562.8 1593.7 570.9 1594.8C579 1595.9 595.3 1595.2 606.7 1597.2C618.1 1599.2 629.4 1603.8 639.2 1607C649 1610.2 660.5 1614.3 665.3 1616.7C670 1619.1 668.1 1619.7 667.7 1621.6C667.3 1623.5 666.4 1624.8 663 1628C659.6 1631.2 654.1 1637.2 647.4 1641C640.7 1644.8 630.9 1647.8 623 1651C615.1 1654.2 605.6 1657.6 600.2 1660C594.8 1662.4 593.1 1664.6 590.4 1665.5C587.7 1666.4 586.9 1666.9 583.9 1665.6C580.9 1664.2 579.5 1659.6 572.5 1657.4C565.5 1655.2 552.2 1654.4 541.6 1652.5C531 1650.6 518.5 1647.6 509 1646C499.5 1644.4 490 1642.8 484.6 1642.8C479.2 1642.8 479.2 1644.7 476.5 1646C473.8 1647.3 471.3 1650.4 468.3 1650.9C465.3 1651.5 462.1 1650.9 458.6 1649.3C455.1 1647.7 453.7 1643 447.2 1641.1C440.7 1639.2 430.9 1640.1 419.5 1637.9C408.1 1635.7 390.2 1630.5 378.8 1628.1C367.4 1625.6 356.4 1625 351.2 1623.2C346 1621.4 343.8 1621 347.9 1617.5Z" fill="#fff"/>
<path d="M473.2 1622.4C472.6 1620.9 476.4 1613.6 479.7 1610.2C483 1606.8 487.9 1604 492.8 1602.1C497.7 1600.1 504.5 1598.8 509 1598.5C513.5 1598.2 518.8 1599.1 519.6 1600.1C520.4 1601.1 517.8 1602.5 513.9 1604.5C510 1606.5 501.1 1609.3 496 1611.8C490.9 1614.2 486.8 1617.4 483 1619.2C479.2 1621 473.8 1623.9 473.2 1622.4Z" fill="#6b6b6b"/>
<path d="M595.3 1642.4C595.6 1640.9 599.3 1633.5 603.4 1629.8C607.5 1626.1 614.5 1622 619.7 1620C624.9 1618 630.7 1618 634.4 1618C638.1 1618 642 1619 641.7 1620.3C641.4 1621.6 637.2 1623.8 632.7 1625.7C628.2 1627.6 619.9 1629.2 614.8 1631.4C609.6 1633.6 605 1636.9 601.8 1638.7C598.5 1640.5 595 1643.9 595.3 1642.4Z" fill="#6b6b6b"/>
<path d="M359.3 1620.8C365.3 1622 383.7 1625.7 395.1 1628.1C406.5 1630.5 419 1634 427.7 1635.4C436.4 1636.8 442 1634.9 447.2 1636.3C452.4 1637.7 455.6 1642 458.6 1643.6C461.6 1645.2 463.1 1646.3 465.1 1646C467.1 1645.7 469.9 1642.7 470.8 1642" fill="none" stroke="#6b6b6b" stroke-width="1.5" stroke-linecap="round"/>
<path d="M481.4 1642C486 1642.3 499 1642.2 509 1643.6C519 1644.9 531.3 1648.3 541.6 1650.1C551.9 1651.9 564.4 1652.2 570.9 1654.2C577.4 1656.2 577.6 1660.7 580.6 1662.3C583.6 1663.9 585.8 1665.7 588.8 1663.9C591.8 1662.1 592.9 1654.8 598.6 1651.7C604.3 1648.6 614.9 1648.1 623 1645.2C631.1 1642.3 640.6 1638 647.4 1634.6C654.2 1631.2 661 1626.5 663.7 1624.9" fill="none" stroke="#6b6b6b" stroke-width="1.5" stroke-linecap="round"/>
<path d="M487.9 1580.1C491.4 1580.9 502.8 1583 509 1585C515.2 1587 520.4 1590.1 525.3 1592.3C530.2 1594.5 536.1 1597 538.3 1598" fill="none" stroke="#6b6b6b" stroke-width="1.5" stroke-linecap="round"/>
<path d="M613.2 1599.6C617.5 1601.1 631.3 1605.5 639.2 1608.6C647.1 1611.7 656.9 1616.8 660.4 1618.4" fill="none" stroke="#6b6b6b" stroke-width="1.5" stroke-linecap="round"/>
<path d="M649 1642L665.3 1636.3L660 1640Z" fill="#ec1c24"/>
<text font-size="100" font-weight="700" fill="#6b6b6b" transform="translate(682.6 1646.8) scale(0.7544 0.7851)" x="-3.5" y="0">266</text>
<text font-size="100" font-weight="700" fill="#6b6b6b" transform="translate(829 1646.8) scale(0.7648 0.7851)" x="-0.7" y="0">x</text>
<text font-size="100" font-weight="700" fill="#6b6b6b" transform="translate(898.5 1646.8) scale(0.7569 0.7851)" x="-6.3" y="0">130</text>
</svg></body></html>
